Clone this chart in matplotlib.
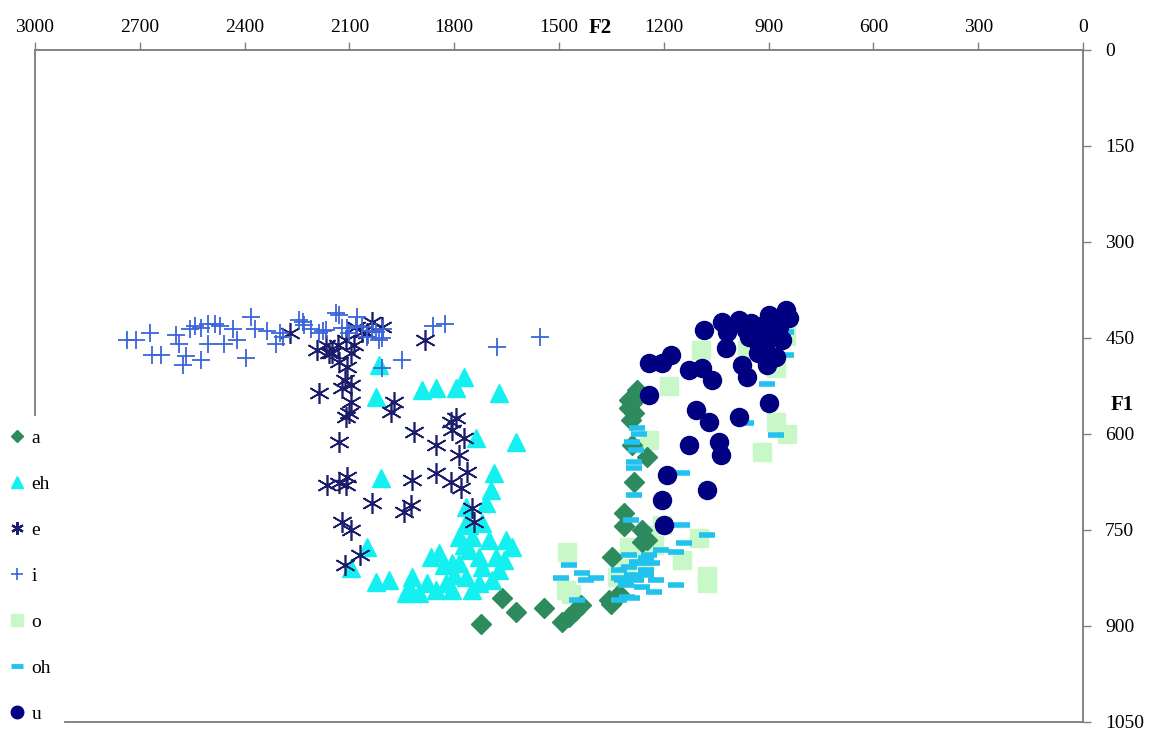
import matplotlib
matplotlib.use("Agg")
import matplotlib.pyplot as plt
from matplotlib.lines import Line2D

plt.rcParams['font.family'] = ['Liberation Serif', 'DejaVu Serif']

# ---- data (F2, F1 in Hz) ----
a_f2 = [1723, 1663, 1623, 1543, 1491, 1472, 1454, 1437, 1351, 1337, 1329, 1349, 1314, 1314,
        1263, 1249, 1263, 1277, 1291, 1300, 1286, 1294, 1291, 1249, 1286, 1271, 1300, 1357]
a_f1 = [897, 856, 878, 872, 894, 886, 877, 867, 866, 856, 850, 792, 723, 744,
        750, 766, 769, 531, 552, 559, 567, 578, 617, 636, 675, 539, 547, 859]

eh_f2 = [2014, 2023, 1891, 1851, 1794, 1771, 1671, 1737, 1623, 2009, 1686, 1694, 1766, 1709,
         1766, 1720, 2051, 2094, 2023, 1986, 1929, 1920, 1866, 1843, 1877, 1851, 1806, 1786,
         1749, 1700, 1651, 1729, 1680, 1634, 1766, 1729, 1691, 1823, 1900, 1937, 1786, 1720,
         1671, 1749, 1806, 1757, 1800, 1829, 1657, 1757, 1771]
eh_f1 = [492, 542, 531, 528, 528, 511, 536, 606, 613, 669, 661, 688, 714, 708,
         739, 739, 777, 809, 831, 828, 839, 823, 792, 786, 833, 844, 802, 761,
         761, 766, 766, 792, 792, 777, 823, 833, 828, 833, 848, 848, 802, 808,
         813, 844, 844, 781, 820, 805, 797, 742, 773]

e_f2 = [2271, 2194, 2166, 2149, 2109, 2094, 2129, 2106, 2114, 2094, 2120, 2186, 2080, 2034,
        2006, 2049, 2063, 1883, 2094, 1971, 1980, 2100, 2109, 2129, 1914, 1851, 1809, 1794,
        1806, 1771, 1786, 2163, 2129, 2106, 2109, 1920, 1851, 1809, 1780, 1763, 2034, 1943,
        1923, 2120, 2094, 2071, 2114, 1749, 1743, 2157, 2134, 2086]
e_f1 = [442, 469, 461, 473, 453, 473, 488, 495, 516, 523, 528, 536, 433, 425,
        433, 442, 441, 453, 550, 550, 566, 567, 573, 613, 597, 617, 581, 575,
        594, 606, 633, 680, 677, 667, 680, 672, 661, 675, 684, 659, 708, 722,
        711, 738, 750, 789, 805, 716, 738, 473, 461, 461]

i_f2 = [2737, 2711, 2670, 2664, 2640, 2597, 2589, 2577, 2557, 2543, 2526, 2506, 2486, 2471,
        2506, 2460, 2434, 2423, 2383, 2369, 2337, 2311, 2397, 2526, 2569, 2291, 2234, 2209,
        2177, 2131, 2106, 2077, 2034, 2003, 2014, 1949, 2006, 1860, 1826, 1677, 1554, 2243,
        2229, 2137, 2077, 2166, 2120, 2100, 2051, 2023, 2006, 2063, 2186, 2300]
i_f1 = [453, 453, 442, 477, 477, 445, 459, 492, 436, 431, 434, 428, 428, 431,
        459, 459, 436, 453, 417, 436, 439, 459, 481, 484, 478, 448, 425, 436,
        439, 414, 434, 431, 439, 436, 453, 484, 497, 431, 428, 464, 448, 422,
        430, 411, 417, 437, 434, 442, 448, 441, 450, 433, 442, 442]

o_f2 = [1094, 1186, 963, 849, 880, 880, 846, 920, 1243, 1477, 1480, 1466, 1300, 1249,
        1206, 1149, 1077, 1100, 1334, 1309, 1229, 923, 1077, 1257]
o_f1 = [469, 525, 469, 447, 497, 581, 600, 628, 609, 784, 844, 850, 777, 758,
        742, 797, 833, 763, 823, 809, 773, 469, 822, 797]

oh_f2 = [849, 849, 906, 966, 880, 1277, 1271, 1291, 1280, 1286, 1286, 1286, 1149, 1294,
         1149, 1077, 1143, 1209, 1166, 1251, 1271, 1300, 1472, 1434, 1494, 1394, 1423, 1329,
         1291, 1251, 1223, 1166, 1309, 1263, 1229, 1306, 1449, 1329, 1277, 1234, 1251, 1320,
         1280, 1329, 1291, 1243, 1300]
oh_f1 = [441, 477, 522, 583, 602, 591, 600, 612, 625, 644, 653, 695, 661, 734,
         742, 758, 770, 781, 784, 794, 802, 808, 805, 817, 825, 825, 828, 825,
         820, 820, 828, 836, 836, 839, 847, 855, 859, 812, 800, 802, 812, 828,
         828, 859, 856, 789, 789]

u_f2 = [986, 966, 949, 900, 849, 843, 871, 891, 920, 909, 929, 900, 906, 880, 929,
        957, 977, 963, 900, 986, 871, 863, 1086, 1034, 1020, 1023, 1129, 1091, 1063,
        1243, 1206, 1180, 1243, 1109, 1071, 1129, 1043, 1037, 1191, 1077, 1206, 1200, 937, 914]
u_f1 = [422, 437, 427, 414, 406, 419, 433, 442, 448, 464, 473, 481, 492, 480, 458,
        448, 492, 511, 552, 573, 422, 453, 437, 425, 441, 466, 500, 497, 516,
        489, 489, 477, 539, 562, 581, 617, 613, 633, 664, 687, 703, 742, 437, 430]

labels = ['a', 'eh', 'e', 'i', 'o', 'oh', 'u']
x_ticks = [3000, 2700, 2400, 2100, 1800, 1500, 1200, 900, 600, 300, 0]
y_ticks = [0, 150, 300, 450, 600, 750, 900, 1050]

# ---- styles ----
c_a = '#2E8B5E'
c_eh = '#14F0F0'
c_e = '#1C1C6C'
c_i = '#3C64DA'
c_o = '#C8F8C8'
c_oh = '#22C2EE'
c_u = '#000080'
asterisk = (6, 2, 0)

fig = plt.figure(figsize=(11.51, 7.31), dpi=100)
ax = fig.add_axes([35 / 1151, 1 - 722 / 731, (1083 - 35) / 1151, (722 - 50) / 731])

ax.plot(o_f2, o_f1, ls='none', marker='s', ms=12.5, mfc=c_o, mec=c_o, zorder=2)
ax.plot(a_f2, a_f1, ls='none', marker='D', ms=10.5, mfc=c_a, mec=c_a, zorder=3)
ax.plot(eh_f2, eh_f1, ls='none', marker='^', ms=13, mfc=c_eh, mec=c_eh, zorder=3)
ax.plot(e_f2, e_f1, ls='none', marker=asterisk, ms=15, mfc='none', mec=c_e, mew=1.2, zorder=4)
ax.plot(i_f2, i_f1, ls='none', marker='+', ms=13, mec=c_i, mew=1.3, zorder=4)
ax.plot(oh_f2, oh_f1, ls='none', marker='_', ms=11, mec=c_oh, mew=4, zorder=5)
ax.plot(u_f2, u_f1, ls='none', marker='o', ms=13, mfc=c_u, mec=c_u, zorder=6)

ax.set_xlim(3000, 0)
ax.set_ylim(1050, 0)

ax.xaxis.tick_top()
ax.yaxis.tick_right()
ax.set_xticks(x_ticks)
ax.set_xticklabels([str(v) for v in x_ticks])
ax.set_yticks(y_ticks)
ax.set_yticklabels([str(v) for v in y_ticks])
ax.tick_params(axis='x', direction='out', length=6, width=1, color='#808080',
               labelsize=14, pad=4, top=True, bottom=False)
ax.tick_params(axis='y', direction='out', length=6, width=1, color='#808080',
               labelsize=14, pad=10, right=True, left=False)

for s in ax.spines.values():
    s.set_color('#7a7a7a')
    s.set_linewidth(1.3)
ax.spines['left'].set_bounds(570, 0)
ax.spines['bottom'].set_bounds(2914, 0)

fig.text(600 / 1151, 1 - 28 / 731, 'F2', fontsize=15, fontweight='bold', ha='center', va='center')
fig.text(1122 / 1151, 1 - 405 / 731, 'F1', fontsize=15, fontweight='bold', ha='center', va='center')

handles = [
    Line2D([], [], ls='none', marker='D', ms=6.5, mfc=c_a, mec=c_a),
    Line2D([], [], ls='none', marker='^', ms=9, mfc=c_eh, mec=c_eh),
    Line2D([], [], ls='none', marker=asterisk, ms=9, mec=c_e, mew=1.6),
    Line2D([], [], ls='none', marker='+', ms=9, mec=c_i, mew=1.2),
    Line2D([], [], ls='none', marker='s', ms=9, mfc=c_o, mec=c_o),
    Line2D([], [], ls='none', marker='_', ms=9, mec=c_oh, mew=3.5),
    Line2D([], [], ls='none', marker='o', ms=9, mfc=c_u, mec=c_u),
]
leg = ax.legend(handles, labels, loc='upper left', bbox_to_anchor=(7 / 1151, 1 - 429 / 731),
                bbox_transform=fig.transFigure, frameon=False, fontsize=14,
                handlelength=1.0, handletextpad=0.25, labelspacing=1.46,
                borderpad=0, borderaxespad=0)

fig.savefig('out.png', dpi=100)
